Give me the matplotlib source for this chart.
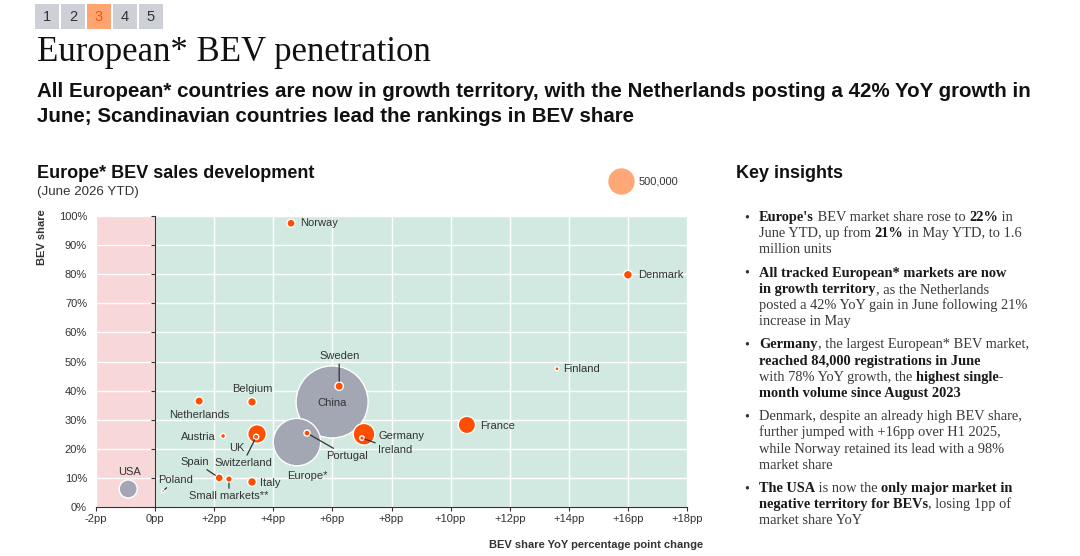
import matplotlib
matplotlib.use("Agg")
import matplotlib.pyplot as plt
from matplotlib.patches import Rectangle

W, H = 1080, 556

# European markets (orange bubbles)
countries = ["Norway", "Denmark", "Finland", "France", "Sweden", "Germany", "Ireland",
             "Portugal", "UK", "Switzerland", "Belgium", "Netherlands", "Austria",
             "Spain", "Small markets**", "Italy", "Poland"]
yoy_change = [4.6, 16.0, 13.6, 10.55, 6.23, 7.07, 7.0,
              5.14, 3.45, 3.42, 3.28, 1.49, 2.3,
              2.17, 2.5, 3.28, 0.27]
bev_share = [97.5, 79.8, 47.5, 28.2, 41.5, 25.0, 23.7,
             25.4, 25.1, 24.1, 36.1, 36.4, 24.4,
             10.0, 9.6, 8.6, 5.5]
volume = [52000, 62000, 13000, 240000, 56000, 375000, 16000,
          30000, 275000, 22000, 60000, 56000, 20000,
          52000, 35000, 62000, 7000]

# comparison markets (grey bubbles)
ref_markets = ["China", "Europe*", "USA"]
ref_yoy_change = [5.99, 4.8, -0.91]
ref_bev_share = [36.1, 22.3, 6.2]
ref_volume = [4150000, 1800000, 260000]

legend_volume = 500000
legend_label = "500,000"

x_ticks = [-2, 0, 2, 4, 6, 8, 10, 12, 14, 16, 18]
x_tick_labels = ["-2pp", "0pp", "+2pp", "+4pp", "+6pp", "+8pp", "+10pp",
                 "+12pp", "+14pp", "+16pp", "+18pp"]
y_ticks = [0, 10, 20, 30, 40, 50, 60, 70, 80, 90, 100]
y_tick_labels = ["0%", "10%", "20%", "30%", "40%", "50%", "60%", "70%",
                 "80%", "90%", "100%"]

tabs = ["1", "2", "3", "4", "5"]
active_tab = "3"

title = "European* BEV penetration"
subtitle = ["All European* countries are now in growth territory, with the Netherlands posting a 42% YoY growth in",
            "June; Scandinavian countries lead the rankings in BEV share"]
chart_title = "Europe* BEV sales development"
chart_subtitle = "(June 2026 YTD)"
x_label = "BEV share YoY percentage point change"
y_label = "BEV share"
insights_title = "Key insights"
# ** marks bold runs
insights = [
    ["**Europe's** BEV market share rose to **22%** in",
     "June YTD, up from **21%** in May YTD, to 1.6",
     "million units"],
    ["**All tracked European* markets are now**",
     "**in growth territory**, as the Netherlands",
     "posted a 42% YoY gain in June following 21%",
     "increase in May"],
    ["**Germany**, the largest European* BEV market,",
     "**reached 84,000 registrations in June**",
     "with 78% YoY growth, the **highest single-**",
     "**month volume since August 2023**"],
    ["Denmark, despite an already high BEV share,",
     "further jumped with +16pp over H1 2025,",
     "while Norway retained its lead with a 98%",
     "market share"],
    ["**The USA** is now the **only major market in**",
     "**negative territory for BEVs**, losing 1pp of",
     "market share YoY"],
]

# label placement: offset in pixels from the bubble, alignment, leader line
label_layout = {
    "Norway": (9, 0, "left", False),
    "Denmark": (10, 0, "left", False),
    "Finland": (6, 0, "left", False),
    "France": (13, -1, "left", False),
    "Sweden": (0, 30, "center", True),
    "Germany": (14, -2, "left", False),
    "Ireland": (16, -12, "left", True),
    "Portugal": (40, -23, "center", True),
    "UK": (-20, -14, "center", False),
    "Switzerland": (-13, -26, "center", True),
    "Belgium": (0, 13, "center", False),
    "Netherlands": (0, -14, "center", False),
    "Austria": (-7, -1, "right", False),
    "Spain": (-24, 16, "center", True),
    "Small markets**": (0, -17, "center", True),
    "Italy": (8, -1, "left", False),
    "Poland": (12, 11, "center", True),
    "China": (0, -1, "center", False),
    "Europe*": (10, -34, "center", False),
    "USA": (1, 17, "center", False),
}

ORANGE = "#FF4E00"
GREY = "#A3A6B3"
LEGEND_ORANGE = "#FFA877"
PINK = "#F7D7D8"
MINT = "#D1E9E1"
TEXT = "#333333"
SANS = "Liberation Sans"
SERIF = "Liberation Serif"


def fx(x):
    return x / W


def fy(y):
    return 1 - y / H


def bubble_size(v):
    # 500,000 units -> 25 px diameter
    return v * (25 * 0.72) ** 2 / legend_volume


fig = plt.figure(figsize=(W / 100, H / 100), dpi=100)
fig.patch.set_facecolor("white")

# page tabs
for i, tab in enumerate(tabs):
    x0 = 35 + i * 26
    active = tab == active_tab
    fig.patches.append(Rectangle((fx(x0), fy(29)), 24 / W, 25 / H, transform=fig.transFigure,
                                 facecolor="#FFA571" if active else "#CDD1D7", edgecolor="none"))
    fig.text(fx(x0 + 12), fy(17), tab, ha="center", va="center", fontsize=10.5, family=SANS,
             color=ORANGE if active else TEXT)

fig.text(fx(37), fy(61), title, family=SERIF, fontsize=25, va="baseline", color="#111111")
fig.text(fx(37), fy(97), subtitle[0], family=SANS, fontsize=14.8, fontweight="bold",
         va="baseline", color="#111111")
fig.text(fx(37), fy(122), subtitle[1], family=SANS, fontsize=14.8, fontweight="bold",
         va="baseline", color="#111111")

fig.text(fx(37), fy(178), chart_title, family=SANS, fontsize=13, fontweight="bold",
         va="baseline", color="#111111")
fig.text(fx(37), fy(195), chart_subtitle, family=SANS, fontsize=9.6, va="baseline", color=TEXT)

# chart
ax = fig.add_axes([fx(96), fy(507), 591 / W, 291 / H])
ax.set_xlim(-2, 18)
ax.set_ylim(0, 100)
ax.axvspan(-2, 0, color=PINK, zorder=0, lw=0)
ax.axvspan(0, 18, color=MINT, zorder=0, lw=0)
ax.set_axisbelow(True)
ax.grid(True, color="white", lw=1)

for s in ["top", "right"]:
    ax.spines[s].set_visible(False)
ax.spines["left"].set_position(("data", 0))
ax.spines["left"].set_color(TEXT)
ax.spines["bottom"].set_color(TEXT)
ax.set_xticks(x_ticks)
ax.set_xticklabels(x_tick_labels)
ax.set_yticks(y_ticks)
ax.set_yticklabels(y_tick_labels)
ax.tick_params(axis="x", length=3, color=TEXT, pad=2, labelsize=8, labelcolor=TEXT)
ax.tick_params(axis="y", length=3, color=TEXT, pad=46, labelsize=8, labelcolor=TEXT)
for lab in ax.get_xticklabels() + ax.get_yticklabels():
    lab.set_family(SANS)

# grey comparison bubbles
ax.scatter(ref_yoy_change, ref_bev_share, s=[bubble_size(v) for v in ref_volume],
           color=GREY, edgecolor="white", lw=1, zorder=3)

# orange bubbles, big ones first so small ones sit on top
order = sorted(range(len(countries)), key=lambda i: -volume[i])
ax.scatter([yoy_change[i] for i in order], [bev_share[i] for i in order],
           s=[bubble_size(volume[i]) for i in order],
           color=ORANGE, edgecolor="white", lw=1, zorder=4)

# labels
all_names = countries + ref_markets
all_x = yoy_change + ref_yoy_change
all_y = bev_share + ref_bev_share
all_v = volume + ref_volume
for name, x, y, v in zip(all_names, all_x, all_y, all_v):
    dx, dy, ha, leader = label_layout[name]
    props = None
    if leader:
        r_pt = bubble_size(v) ** 0.5 / 2
        props = dict(arrowstyle="-", color=TEXT, lw=0.9, shrinkA=0, shrinkB=r_pt + 0.5)
    ax.annotate(name, (x, y), xytext=(dx, dy), textcoords="offset pixels",
                ha=ha, va="center", fontsize=8, family=SANS, color=TEXT,
                arrowprops=props, zorder=5)

# size legend
ax.scatter([0.888], [1.12], s=bubble_size(legend_volume), color=LEGEND_ORANGE,
           transform=ax.transAxes, clip_on=False, zorder=5)
ax.text(0.918, 1.12, legend_label, transform=ax.transAxes, ha="left", va="center",
        fontsize=8, family=SANS, color=TEXT)

fig.text(fx(703), fy(548), x_label, ha="right", va="baseline", fontsize=8,
         fontweight="bold", family=SANS, color=TEXT)
fig.text(fx(42), fy(237), y_label, ha="center", va="center", rotation=90, fontsize=8,
         fontweight="bold", family=SANS, color=TEXT)

# key insights panel
fig.text(fx(736), fy(178), insights_title, family=SANS, fontsize=13, fontweight="bold",
         va="baseline", color="#111111")

renderer = fig.canvas.get_renderer()


def run_width(s, bold):
    kw = dict(family=SERIF, fontsize=10.4, fontweight="bold" if bold else "normal")
    t1 = fig.text(0, 0, "|" + s + "|", **kw)
    t2 = fig.text(0, 0, "||", **kw)
    w = t1.get_window_extent(renderer).width - t2.get_window_extent(renderer).width
    t1.remove()
    t2.remove()
    return w


line_h = 16.2
y = 221
for bullet in insights:
    fig.text(fx(747), fy(y), "\u2022", ha="center", va="baseline", family=SERIF,
             fontsize=10.4, color=TEXT)
    for line in bullet:
        x = 759
        for k, part in enumerate(line.split("**")):
            if not part:
                continue
            bold = k % 2 == 1
            fig.text(fx(x), fy(y), part, va="baseline", family=SERIF, fontsize=10.4,
                     fontweight="bold" if bold else "normal",
                     color="#1a1a1a" if bold else "#3a3a3a")
            x += run_width(part, bold)
        y += line_h
    y += 7

fig.savefig("out.png", dpi=100, facecolor="white")
